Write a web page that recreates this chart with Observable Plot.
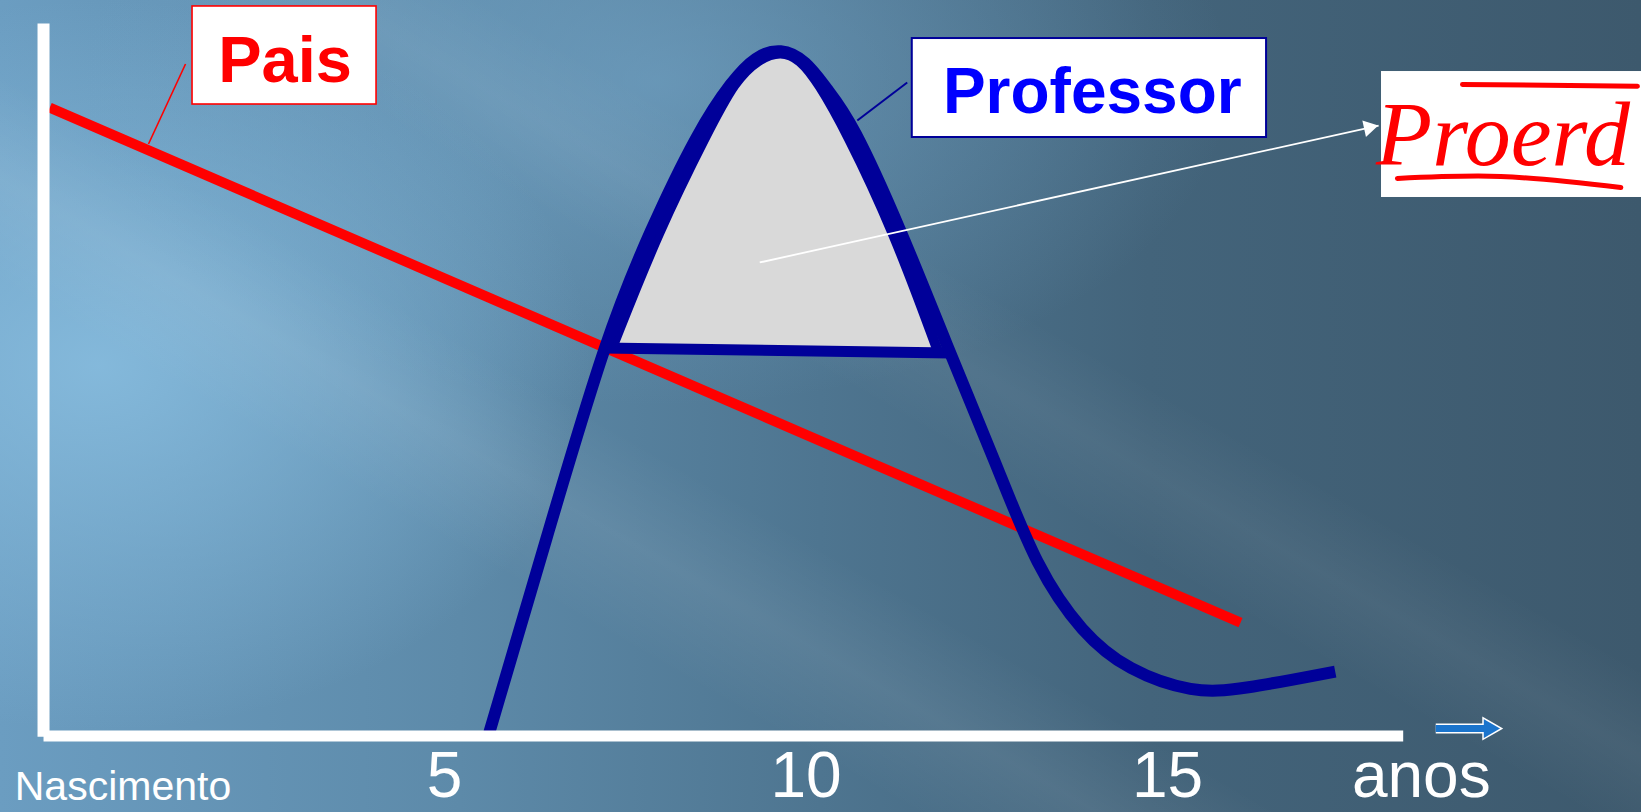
<!DOCTYPE html>
<html><head><meta charset="utf-8">
<script src="https://cdn.jsdelivr.net/npm/d3@7"></script>
<script src="https://cdn.jsdelivr.net/npm/@observablehq/plot@0.6"></script>
<style>
html,body{margin:0;padding:0;background:#3d596d;}
#chart{width:1641px;height:812px;position:relative;overflow:hidden;
background:
 linear-gradient(30deg, rgba(255,255,255,0) 30%, rgba(255,255,255,0.07) 36%, rgba(255,255,255,0) 42%, rgba(255,255,255,0) 52%, rgba(255,255,255,0.05) 57%, rgba(255,255,255,0) 62%),
 radial-gradient(ellipse 30% 45% at 6% 45%, rgba(135,188,222,0.9) 0%, rgba(135,188,222,0) 100%),
 radial-gradient(ellipse 35% 40% at 40% 10%, rgba(120,170,205,0.55) 0%, rgba(120,170,205,0) 100%),
 linear-gradient(to right, #6b9dc1 0%, #5d8aa9 28%, #4e7590 50%, #43647b 70%, #3d596d 100%);}
#chart svg{position:absolute;left:0;top:0;}
</style></head><body><div id="chart"></div>
<script>
// ---- data (x: age in years, y: influence level 0..100) ----
const professorAge   = [5.62, 6.44, 7.24, 7.84, 8.51, 8.98, 9.30, 9.65, 10.0, 10.28, 10.63, 11.32, 11.92, 12.65, 13.19, 13.82, 14.45, 15.36, 16.01, 17.32];
const professorLevel = [0.49, 28.8, 56.2, 70.9, 85.0, 92.0, 95.4, 96.6, 94.8, 90.9, 86.4, 70.9, 55.5, 37.7, 23.6, 14.4, 9.2, 6.0, 6.5, 9.05];

const proerdAge   = [7.32, 7.96, 8.65, 9.02, 9.34, 9.65, 9.92, 10.17, 10.55, 11.21, 11.82];
const proerdLevel = [54.5, 70.9, 85.0, 92.0, 95.0, 96.2, 95.0, 91.7, 85.0, 70.9, 54.1];
const proerdBaseAge   = [7.19, 12.0];
const proerdBaseLevel = [54.46, 53.75];

const paisAge   = [-0.46, 16.01];
const paisLevel = [88.2, 15.9];

const tickLabels = ["5", "10", "15", "anos"];
const tickAge    = [5, 10, 15, 18.51];
const tickBase   = [-8.5, -8.63, -8.63, -8.63];
const originLabel = "Nascimento";

const axisStart = -0.546, axisEnd = 18.26, axisTop = 100;

// callouts
const paisBox = {x1: 1.515, x2: 4.06, y1: 88.63, y2: 102.39, label: "Pais", lx: 2.794, ly: 91.72};
const paisLeader = {x1: 1.418, y1: 94.32, x2: 0.906, y2: 83.09};
const profBox = {x1: 11.47, x2: 16.37, y1: 84.0, y2: 97.89, label: "Professor", lx: 13.96, ly: 87.37};
const profLeader = {x1: 11.40, y1: 91.72, x2: 10.71, y2: 86.38};
const logoBox = {x1: 17.96, x2: 21.6, y1: 75.58, y2: 93.26, label: "Proerd", lx: 19.64, ly: 80.2};
const logoTopLineAge = [19.08, 21.50], logoTopLineLevel = [91.44, 91.2];
const logoBotLineAge = [18.18, 19.61, 21.27], logoBotLineLevel = [78.25, 78.53, 76.98];
const pointer = {x1: 9.36, y1: 66.46, x2: 17.92, y2: 85.68};
const timeArrow = {x1: 18.71, x2: 19.41, y: 1.05, tipX: 19.45};

const W = 1641, H = 812;
const xDomain = [-1.1411, 21.556];
const yDomain = [-10.737, 103.228];

const T = (xs, ys) => xs.map((x, i) => ({x, y: ys[i]}));
const professor = T(professorAge, professorLevel);
const proerd = T(proerdAge, proerdLevel);
const proerdBase = T(proerdBaseAge, proerdBaseLevel);
const pais = T(paisAge, paisLevel);
const ticks = tickLabels.map((t, i) => ({t, x: tickAge[i], y: tickBase[i]}));

// head of pointer arrow: place triangle a bit back from the tip in pixel space
const xs = d3.scaleLinear(xDomain, [0, W]), ys = d3.scaleLinear(yDomain, [H, 0]);
const px1 = xs(pointer.x1), py1 = ys(pointer.y1), px2 = xs(pointer.x2), py2 = ys(pointer.y2);
const len = Math.hypot(px2 - px1, py2 - py1), ux = (px2 - px1) / len, uy = (py2 - py1) / len;
const head = {x: xs.invert(px2 - ux * 10), y: ys.invert(py2 - uy * 10)};
const headRot = Math.atan2(uy, ux) * 180 / Math.PI + 90;

const font = "'Liberation Sans', Arial, sans-serif";
const plot = Plot.plot({
  width: W, height: H, margin: 0,
  x: {domain: xDomain, axis: null},
  y: {domain: yDomain, axis: null},
  style: {background: "transparent", fontFamily: font, overflow: "visible"},
  marks: [
    Plot.line(pais, {x: "x", y: "y", stroke: "#ff0000", strokeWidth: 10, strokeLinecap: "butt"}),
    Plot.line(proerd, {x: "x", y: "y", fill: "#d9d9d9", stroke: "none", curve: "basis"}),
    Plot.line(proerd, {x: "x", y: "y", stroke: "#000099", strokeWidth: 10, curve: "basis"}),
    Plot.line(proerdBase, {x: "x", y: "y", stroke: "#000099", strokeWidth: 11, strokeLinecap: "butt"}),
    Plot.line(professor, {x: "x", y: "y", stroke: "#000099", strokeWidth: 12, curve: "basis", strokeLinecap: "butt"}),
    // axes
    Plot.link([0], {x1: axisStart, x2: axisStart, y1: -0.1, y2: axisTop, stroke: "white", strokeWidth: 12}),
    Plot.link([0], {x1: axisStart, x2: axisEnd, y1: 0, y2: 0, stroke: "white", strokeWidth: 11}),
    // tick labels
    Plot.text([originLabel], {x: 0.553, y: -9.05, text: d => d, fill: "white", fontSize: 41, lineAnchor: "bottom"}),
    Plot.text(ticks, {x: "x", y: "y", text: "t", fill: "white", fontSize: 64, lineAnchor: "bottom"}),
    // time arrow
    Plot.link([timeArrow], {x1: "x1", x2: "x2", y1: "y", y2: "y", stroke: "white", strokeWidth: 10}),
    Plot.dot([timeArrow], {x: "tipX", y: "y", symbol: "triangle", r: 8, rotate: 90, fill: "#1a74cc", stroke: "white", strokeWidth: 1.5}),
    Plot.link([timeArrow], {x1: "x1", x2: "x2", y1: "y", y2: "y", stroke: "#1a74cc", strokeWidth: 7}),
    // pointer arrow to logo
    Plot.link([pointer], {x1: "x1", y1: "y1", x2: "x2", y2: "y2", stroke: "white", strokeWidth: 1.8}),
    Plot.dot([head], {x: "x", y: "y", symbol: "triangle", r: 6.2, rotate: headRot, fill: "white", stroke: "none"}),
    // callout leaders
    Plot.link([paisLeader], {x1: "x1", y1: "y1", x2: "x2", y2: "y2", stroke: "#ff0000", strokeWidth: 1.6}),
    Plot.link([profLeader], {x1: "x1", y1: "y1", x2: "x2", y2: "y2", stroke: "#000099", strokeWidth: 2}),
    // callout boxes
    Plot.rect([paisBox], {x1: "x1", x2: "x2", y1: "y1", y2: "y2", fill: "white", stroke: "#ff0000", strokeWidth: 1.6}),
    Plot.text([paisBox], {x: "lx", y: "ly", text: "label", fill: "#ff0000", fontSize: 65, fontWeight: "bold", lineAnchor: "bottom"}),
    Plot.rect([profBox], {x1: "x1", x2: "x2", y1: "y1", y2: "y2", fill: "white", stroke: "#000099", strokeWidth: 2}),
    Plot.text([profBox], {x: "lx", y: "ly", text: "label", fill: "#0000ff", fontSize: 64, fontWeight: "bold", lineAnchor: "bottom"}),
    // logo
    Plot.rect([logoBox], {x1: "x1", x2: "x2", y1: "y1", y2: "y2", fill: "white"}),
    Plot.text([logoBox], {x: "lx", y: "ly", text: "label", fill: "#ff0000", fontSize: 92, fontStyle: "italic", fontFamily: "'Liberation Serif', serif", lineAnchor: "bottom"}),
    Plot.line(T(logoTopLineAge, logoTopLineLevel), {x: "x", y: "y", stroke: "#ff0000", strokeWidth: 5}),
    Plot.line(T(logoBotLineAge, logoBotLineLevel), {x: "x", y: "y", stroke: "#ff0000", strokeWidth: 5, curve: "catmull-rom"})
  ]
});
document.getElementById("chart").appendChild(plot);
</script></body></html>
